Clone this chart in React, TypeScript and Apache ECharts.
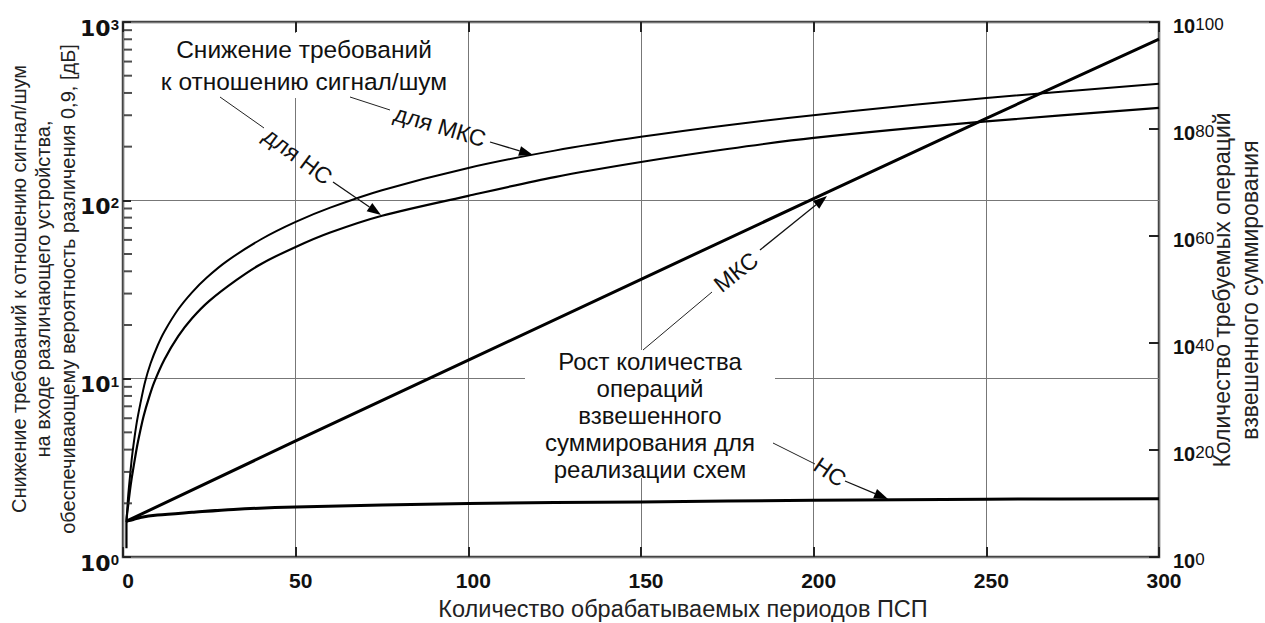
import React, { useEffect, useRef } from 'react';
import * as echarts from 'echarts';

// x-axis
const xMin = 0;
const xMax = 300;
const xInterval = 50;

// SNR requirement reduction (left, log axis)
const snrMksX = [1, 1.5, 2, 2.5, 3, 4, 5, 6.4, 8, 10, 12, 16, 20, 24.2, 30, 40, 50, 60, 75, 100, 125, 150, 175, 210, 250, 300];
const snrMksY = [1.57, 2.2, 2.8, 3.5, 4.2, 5.7, 7.2, 9.6, 12.2, 15.3, 18.4, 24.5, 30.5, 36.8, 45.5, 60.5, 75.7, 91, 114, 152, 190, 227, 264, 315, 375, 450];

const snrNsX = [1, 1, 1.5, 2, 2.5, 3, 4, 5, 6, 7.5, 9, 12, 16, 20, 25, 32.9, 40, 50, 60, 75, 100, 125, 150, 175, 200, 250, 300];
const snrNsY = [1.12, 1.57, 1.95, 2.35, 2.75, 3.15, 4.1, 5.1, 6.2, 7.8, 9.5, 12.8, 17.3, 21.8, 27.3, 35.8, 44, 54.8, 66, 82, 106, 135, 164, 194, 224, 277, 330];

// number of operations (right axis, decimal exponent)
const opsMksX = [1, 50, 100, 150, 200, 250, 300];
const opsMksExp = [6.7, 21.7, 36.8, 51.9, 67.0, 82.0, 96.8];

const opsNsX = [1, 3, 5, 10, 20, 32, 50, 100, 150, 200, 250, 300];
const opsNsExp = [6.7, 7.0, 7.4, 7.85, 8.35, 8.9, 9.35, 10.0, 10.3, 10.6, 10.8, 10.9];

// axis tick values
const leftMin = 1;
const leftMax = 1000;
const leftMinorTicks = [2, 3, 4, 5, 6, 7, 8, 9, 20, 30, 40, 50, 60, 70, 80, 90, 200, 300, 400, 500, 600, 700, 800, 900];
const rightMin = 0;
const rightMax = 100;
const rightInterval = 20;

const zip = (xs: number[], ys: number[]) => xs.map((x, i) => [x, ys[i]]);

function arrow(x1: number, y1: number, x2: number, y2: number) {
  const a = Math.atan2(y2 - y1, x2 - x1);
  const L = 14;
  const H = 5;
  const c = Math.cos(a);
  const s = Math.sin(a);
  const bx = x2 - L * c;
  const by = y2 - L * s;
  return [
    { type: 'line', z: 20, shape: { x1, y1, x2: bx, y2: by }, style: { stroke: '#111', lineWidth: 1.3 } },
    {
      type: 'polygon',
      z: 20,
      shape: { points: [[x2, y2], [bx - H * s, by + H * c], [bx + H * s, by - H * c]] },
      style: { fill: '#000' },
    },
  ];
}

function leader(x1: number, y1: number, x2: number, y2: number) {
  return { type: 'line', z: 20, shape: { x1, y1, x2, y2 }, style: { stroke: '#222', lineWidth: 1 } };
}

const axisFont = 'Liberation Sans';

function label(text: string, x: number, y: number, rotation = 0, fontSize = 23, lineHeight = 27, fill = '#111') {
  return {
    type: 'text',
    z: 21,
    x,
    y,
    rotation,
    style: {
      text,
      fontSize,
      fontFamily: axisFont,
      fill,
      align: 'center',
      verticalAlign: 'middle',
      textAlign: 'center',
      textVerticalAlign: 'middle',
      lineHeight,
    },
  };
}

export default function App() {
  const ref = useRef<HTMLDivElement>(null);
  useEffect(() => {
    if (!ref.current) return;
    const chart = echarts.init(ref.current, undefined, { renderer: 'svg' });
    const tickStyle = { color: '#222', width: 2 };
    const noLine = { show: false, onZero: false };
    const option: any = {
      animation: false,
      backgroundColor: '#fff',
      grid: {
        left: 123,
        right: 106,
        top: 22,
        bottom: 66,
        show: true,
        borderColor: '#444',
        borderWidth: 2.5,
      },
      xAxis: [
        {
          type: 'value',
          min: xMin,
          max: xMax,
          interval: xInterval,
          position: 'bottom',
          axisLine: noLine,
          axisTick: { show: true, inside: true, length: 10, lineStyle: tickStyle },
          splitLine: { show: true, lineStyle: { color: '#777', width: 1 } },
          axisLabel: {
            margin: 13,
            fontFamily: axisFont,
            fontWeight: 'bold',
            fontSize: 21,
            color: '#111',
            padding: [0, 0, 0, 10],
          },
        },
        {
          type: 'value',
          min: xMin,
          max: xMax,
          interval: xInterval,
          position: 'top',
          axisLine: noLine,
          axisTick: { show: true, inside: true, length: 10, lineStyle: tickStyle },
          splitLine: { show: false },
          axisLabel: { show: false },
        },
      ],
      yAxis: [
        {
          type: 'log',
          logBase: 10,
          min: leftMin,
          max: leftMax,
          position: 'left',
          axisLine: noLine,
          axisTick: { show: true, inside: true, length: 8, lineStyle: tickStyle },
          splitLine: { show: true, lineStyle: { color: '#777', width: 1 } },
          axisLabel: {
            margin: 4,
            padding: [12, 0, 0, 0],
            formatter: (v: number) => `{b|10}{s|${Math.round(Math.log10(v))}}`,
            rich: {
              b: { fontFamily: 'DejaVu Sans', fontWeight: 'bold', fontSize: 22, lineHeight: 22, verticalAlign: 'bottom', color: '#111' },
              s: { fontFamily: axisFont, fontWeight: 'bold', fontSize: 15, lineHeight: 14, verticalAlign: 'top', color: '#111' },
            },
            lineHeight: 26,
          },
        },
        {
          type: 'value',
          min: rightMin,
          max: rightMax,
          interval: rightInterval,
          position: 'right',
          axisLine: noLine,
          axisTick: { show: true, inside: true, length: 10, lineStyle: tickStyle },
          splitLine: { show: false },
          axisLabel: {
            margin: 14,
            padding: [8, 0, 0, 0],
            formatter: (v: number) => `{b|10}{s|${v}}`,
            rich: {
              b: { fontFamily: axisFont, fontWeight: 'bold', fontSize: 20, lineHeight: 20, verticalAlign: 'bottom', color: '#111' },
              s: { fontFamily: axisFont, fontSize: 17, lineHeight: 14, verticalAlign: 'top', color: '#111' },
            },
            lineHeight: 28,
          },
        },
      ],
      series: [
        {
          // minor log ticks of the left axis
          name: 'minorTicks',
          type: 'scatter',
          xAxisIndex: 0,
          yAxisIndex: 0,
          clip: false,
          silent: true,
          z: 6,
          symbol: 'rect',
          symbolSize: [8, 2],
          symbolOffset: [5, 0],
          itemStyle: { color: '#222' },
          data: leftMinorTicks.map((v) => [xMin, v]),
        },
        {
          name: 'для МКС',
          type: 'line',
          xAxisIndex: 0,
          yAxisIndex: 0,
          data: zip(snrMksX, snrMksY),
          symbol: 'none',
          smooth: 0.3,
          lineStyle: { color: '#000', width: 2 },
          z: 5,
        },
        {
          name: 'для НС',
          type: 'line',
          xAxisIndex: 0,
          yAxisIndex: 0,
          data: zip(snrNsX, snrNsY),
          symbol: 'none',
          smooth: 0.3,
          lineStyle: { color: '#000', width: 2.2 },
          z: 5,
        },
        {
          name: 'МКС',
          type: 'line',
          xAxisIndex: 0,
          yAxisIndex: 1,
          data: zip(opsMksX, opsMksExp),
          symbol: 'none',
          lineStyle: { color: '#000', width: 3 },
          z: 5,
        },
        {
          name: 'НС',
          type: 'line',
          xAxisIndex: 0,
          yAxisIndex: 1,
          data: zip(opsNsX, opsNsExp),
          symbol: 'none',
          smooth: 0.3,
          lineStyle: { color: '#000', width: 3 },
          z: 5,
        },
      ],
      graphic: {
        elements: [
          { type: 'rect', z: 1, shape: { x: 150, y: 33, width: 317, height: 65 }, style: { fill: '#fff' } },
          { type: 'rect', z: 1, shape: { x: 525, y: 350, width: 250, height: 128 }, style: { fill: '#fff' } },
          label('Снижение требований\nк отношению сигнал/шум', 304, 65, 0, 24.5, 32),
          label('Рост количества\nопераций\nвзвешенного\nсуммирования для\nреализации схем', 650, 415, 0, 24, 27),
          label('для МКС', 440, 126, -0.29, 23),
          label('для НС', 298, 156, -0.64, 23),
          label('МКС', 736, 272, 0.67, 23),
          label('НС', 830, 472, -0.6, 23),
          leader(350, 97, 390, 110),
          leader(220, 97, 264, 128),
          leader(643, 350, 712, 292),
          leader(773, 443, 815, 464),
          ...arrow(490, 142, 533, 155),
          ...arrow(333, 182, 381, 215),
          ...arrow(760, 250, 827, 196),
          ...arrow(845, 481, 888, 499),
          label(
            'Снижение требований к отношению сигнал/шум\nна входе различающего устройства,\nобеспечивающему вероятность различения 0,9, [дБ]',
            43, 289, Math.PI / 2, 20, 24.5, '#222'
          ),
          label('Количество требуемых операций\nвзвешенного суммирования', 1236, 290, Math.PI / 2, 23, 28, '#222'),
          label('Количество обрабатываемых периодов ПСП', 683, 609, 0, 23.5, 26, '#222'),
        ],
      },
    };
    chart.setOption(option);
    return () => chart.dispose();
  }, []);
  return <div ref={ref} style={{ position: 'fixed', left: 0, top: 0, width: 1265, height: 623 }} />;
}
